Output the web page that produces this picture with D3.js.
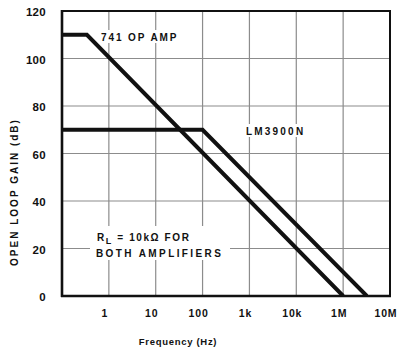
<!DOCTYPE html>
<html><head><meta charset="utf-8">
<script src="https://cdn.jsdelivr.net/npm/d3@7"></script>
<style>
html,body{margin:0;padding:0;background:#fff;}
svg{display:block;}
text{font-family:"Liberation Sans",Arial,Helvetica,sans-serif;font-weight:bold;fill:#111;}
</style></head>
<body>
<script>
// ---- data ----
const yTicks = [0, 20, 40, 60, 80, 100, 120];
const xTickValues = [1, 10, 100, 1e3, 1e4, 1e5, 1e6];
const xTickLabels = ["1", "10", "100", "1k", "10k", "1M", "10M"];
const op741Freq = [0.1, 0.34, 1e5];
const op741Gain = [110, 110, 0];
const lm3900Freq = [0.1, 100, 3.2e5];
const lm3900Gain = [70, 70, 0];

const W = 399, H = 351;
const L = 62, R = 390, T = 11, B = 296;

const svg = d3.select("body").append("svg").attr("width", W).attr("height", H);

const x = d3.scaleLog().domain([0.1, 1e6]).range([L, R]);
const y = d3.scaleLinear().domain([0, 120]).range([B, T]);

// grid
const grid = svg.append("g").attr("stroke", "#8c8c8c").attr("stroke-width", 1.2);
grid.selectAll("line.v").data(xTickValues.slice(0, -1)).enter().append("line")
  .attr("x1", d => x(d)).attr("x2", d => x(d)).attr("y1", T).attr("y2", B);
grid.selectAll("line.h").data(yTicks.slice(1, -1)).enter().append("line")
  .attr("x1", L).attr("x2", R).attr("y1", d => y(d)).attr("y2", d => y(d));

// white backgrounds behind in-plot labels
svg.append("rect").attr("x", 90).attr("y", 226).attr("width", 140).attr("height", 34).attr("fill", "#fff");
svg.append("rect").attr("x", 99).attr("y", 30).attr("width", 83).attr("height", 13).attr("fill", "#fff");
svg.append("rect").attr("x", 243).attr("y", 124).attr("width", 66).attr("height", 13).attr("fill", "#fff");

// frame
svg.append("rect").attr("x", L).attr("y", T).attr("width", R - L).attr("height", B - T)
  .attr("fill", "none").attr("stroke", "#111").attr("stroke-width", 2);
svg.append("line").attr("x1", L).attr("x2", L).attr("y1", T - 1).attr("y2", B + 1)
  .attr("stroke", "#111").attr("stroke-width", 2.6);
svg.append("line").attr("x1", L - 1).attr("x2", R + 1).attr("y1", B).attr("y2", B)
  .attr("stroke", "#111").attr("stroke-width", 2.6);

// series
svg.append("clipPath").attr("id", "c").append("rect")
  .attr("x", L).attr("y", T).attr("width", R - L).attr("height", B - T);
const line = d3.line().x(d => x(d[0])).y(d => y(d[1]));
const series = [
  d3.zip(op741Freq, op741Gain),
  d3.zip(lm3900Freq, lm3900Gain)
];
svg.append("g").attr("clip-path", "url(#c)").selectAll("path").data(series).enter().append("path")
  .attr("d", line).attr("fill", "none").attr("stroke", "#111").attr("stroke-width", 4)
  .attr("stroke-linejoin", "miter");

// axes labels
const xAxis = d3.axisBottom(x).tickValues(xTickValues).tickFormat((d, i) => xTickLabels[i]).tickSize(0).tickPadding(14);
const gx = svg.append("g").attr("transform", `translate(0,${B})`).call(xAxis);
gx.select(".domain").remove();
gx.selectAll("text").style("font-size", "10.5px").style("letter-spacing", "0.8px")
  .style("font-family", "Liberation Sans, Arial, sans-serif").style("font-weight", "bold")
  .attr("fill", "#111").attr("dx", -4.5);

const yAxis = d3.axisLeft(y).tickValues(yTicks).tickSize(0).tickPadding(16);
const gy = svg.append("g").attr("transform", `translate(${L},0)`).call(yAxis);
gy.select(".domain").remove();
gy.selectAll("text").style("font-size", "11.5px").style("letter-spacing", "0.3px")
  .style("font-family", "Liberation Sans, Arial, sans-serif").style("font-weight", "bold")
  .attr("fill", "#111").attr("dy", "0.4em");

// titles
svg.append("text").attr("x", 178).attr("y", 345).attr("text-anchor", "middle")
  .style("font-size", "9.5px").style("letter-spacing", "0.7px").text("Frequency (Hz)");
svg.append("text").attr("transform", "translate(18,192) rotate(-90)").attr("text-anchor", "middle")
  .style("font-size", "10px").style("letter-spacing", "2px").text("OPEN LOOP GAIN (dB)");

// series labels
svg.append("text").attr("x", 101).attr("y", 41).style("font-size", "10px").style("letter-spacing", "1.9px").text("741 OP AMP");
svg.append("text").attr("x", 246).attr("y", 135).style("font-size", "10px").style("letter-spacing", "2.2px").text("LM3900N");

const ann = svg.append("text").style("font-size", "10px").style("letter-spacing", "1.6px");
ann.append("tspan").attr("x", 97).attr("y", 241).text("R");
ann.append("tspan").attr("dy", 3).style("font-size", "9px").text("L");
ann.append("tspan").attr("dy", -3).text(" = 10kΩ FOR");
svg.append("text").attr("x", 96).attr("y", 257).style("font-size", "10px").style("letter-spacing", "2.4px").text("BOTH AMPLIFIERS");
</script>
</body></html>
